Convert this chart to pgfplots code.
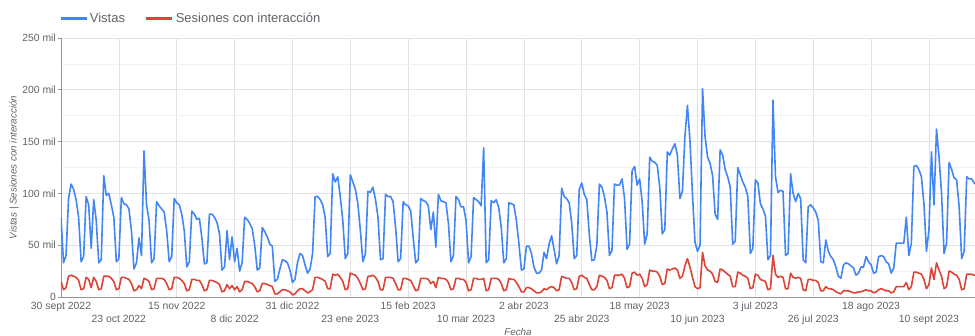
\documentclass[border=0pt]{standalone}
\usepackage{pgfplots}
\pgfplotsset{compat=1.18}
\usepackage{pgfplotstable}
\usepackage{fontspec}
\setmainfont{Liberation Sans}
\definecolor{gblue}{RGB}{66,133,244}
\definecolor{gred}{RGB}{219,68,55}
\definecolor{txt}{RGB}{95,99,104}
\definecolor{gridc}{RGB}{226,226,226}
\definecolor{gridm}{RGB}{242,242,242}
\definecolor{axc}{RGB}{150,150,150}

\pgfplotstableread[row sep=\\]{
d v s\\
0 77 15\\ 1 33 7\\ 2 40 9\\ 3 95 20\\ 4 109 21\\ 5 104 20\\ 6 94 19\\
7 77 16\\ 8 34 7\\ 9 39 8\\ 10 97 19\\ 11 89 17\\ 12 47 9\\ 13 94 19\\
14 74 15\\ 15 33 7\\ 16 36 8\\ 17 117 20\\ 18 98 20\\ 19 100 20\\ 20 89 18\\
21 77 15\\ 22 34 7\\ 23 37 8\\ 24 96 19\\ 25 90 19\\ 26 89 18\\ 27 85 17\\
28 64 13\\ 29 27 6\\ 30 33 7\\ 31 57 11\\ 32 40 8\\ 33 141 18\\ 34 89 17\\
35 74 15\\ 36 33 7\\ 37 37 8\\ 38 92 18\\ 39 88 18\\ 40 85 18\\ 41 82 17\\
42 64 13\\ 43 34 7\\ 44 39 8\\ 45 95 19\\ 46 91 19\\ 47 89 18\\ 48 80 16\\
49 64 13\\ 50 29 6\\ 51 34 7\\ 52 83 17\\ 53 80 17\\ 54 75 16\\ 55 76 16\\
56 57 12\\ 57 32 6\\ 58 33 7\\ 59 80 16\\ 60 80 16\\ 61 77 15\\ 62 72 14\\
63 61 12\\ 64 26 5\\ 65 29 6\\ 66 64 12\\ 67 36 8\\ 68 58 11\\ 69 34 7\\
70 47 10\\ 71 25 5\\ 72 33 7\\ 73 77 15\\ 74 75 15\\ 75 71 14\\ 76 66 13\\
77 50 10\\ 78 26 5\\ 79 28 6\\ 80 67 13\\ 81 63 13\\ 82 58 12\\ 83 51 11\\
84 49 10\\ 85 15 3\\ 86 17 3\\ 87 27 5\\ 88 36 7\\ 89 35 7\\ 90 33 6\\
91 26 5\\ 92 14 2\\ 93 17 3\\ 94 33 6\\ 95 42 8\\ 96 40 8\\ 97 31 6\\
98 23 4\\ 99 27 5\\ 100 42 7\\ 101 97 19\\ 102 97 19\\ 103 94 18\\ 104 89 17\\
105 77 15\\ 106 39 8\\ 107 42 8\\ 108 119 22\\ 109 111 21\\ 110 116 22\\ 111 97 19\\
112 74 15\\ 113 37 7\\ 114 42 8\\ 115 118 23\\ 116 111 22\\ 117 104 21\\ 118 90 18\\
119 64 13\\ 120 34 7\\ 121 42 8\\ 122 102 20\\ 123 101 20\\ 124 106 21\\ 125 94 19\\
126 77 15\\ 127 36 7\\ 128 37 7\\ 129 99 19\\ 130 97 19\\ 131 97 19\\ 132 92 18\\
133 67 13\\ 134 34 7\\ 135 37 7\\ 136 92 18\\ 137 89 18\\ 138 88 17\\ 139 83 16\\
140 57 11\\ 141 33 6\\ 142 36 7\\ 143 95 18\\ 144 93 18\\ 145 92 18\\ 146 88 17\\
147 65 13\\ 148 82 15\\ 149 48 9\\ 150 99 19\\ 151 93 18\\ 152 92 18\\ 153 91 17\\
154 71 14\\ 155 34 7\\ 156 40 8\\ 157 97 18\\ 158 94 18\\ 159 87 17\\ 160 87 17\\
161 74 14\\ 162 33 6\\ 163 39 7\\ 164 96 18\\ 165 94 18\\ 166 92 17\\ 167 88 17\\
168 144 18\\ 169 33 6\\ 170 36 7\\ 171 93 18\\ 172 91 18\\ 173 94 18\\ 174 86 17\\
175 67 13\\ 176 33 6\\ 177 37 7\\ 178 91 18\\ 179 90 17\\ 180 89 17\\ 181 74 14\\
182 52 10\\ 183 26 5\\ 184 27 5\\ 185 49 9\\ 186 49 9\\ 187 42 8\\ 188 29 6\\
189 23 4\\ 190 23 4\\ 191 26 5\\ 192 43 8\\ 193 37 7\\ 194 51 9\\ 195 59 10\\
196 46 9\\ 197 32 6\\ 198 40 7\\ 199 105 20\\ 200 97 19\\ 201 95 18\\ 202 91 18\\
203 71 14\\ 204 37 7\\ 205 40 8\\ 206 104 20\\ 207 110 21\\ 208 99 19\\ 209 94 18\\
210 60 12\\ 211 35 7\\ 212 36 7\\ 213 50 10\\ 214 109 21\\ 215 106 20\\ 216 97 19\\
217 82 16\\ 218 40 8\\ 219 45 9\\ 220 109 21\\ 221 108 21\\ 222 108 21\\ 223 114 22\\
224 95 18\\ 225 46 9\\ 226 51 10\\ 227 122 23\\ 228 126 24\\ 229 108 21\\ 230 114 22\\
231 92 18\\ 232 51 10\\ 233 61 12\\ 234 135 26\\ 235 131 25\\ 236 130 25\\ 237 127 24\\
238 106 20\\ 239 61 12\\ 240 65 13\\ 241 140 27\\ 242 137 26\\ 243 143 27\\ 244 148 28\\
245 137 26\\ 246 95 18\\ 247 102 20\\ 248 155 30\\ 249 185 37\\ 250 151 29\\ 251 99 19\\
252 53 10\\ 253 44 8\\ 254 50 9\\ 255 201 43\\ 256 155 30\\ 257 135 26\\ 258 129 25\\
259 117 22\\ 260 80 15\\ 261 75 14\\ 262 142 27\\ 263 137 26\\ 264 123 24\\ 265 116 22\\
266 106 20\\ 267 51 10\\ 268 54 10\\ 269 125 24\\ 270 118 23\\ 271 111 21\\ 272 106 20\\
273 97 18\\ 274 42 8\\ 275 47 9\\ 276 113 22\\ 277 110 21\\ 278 90 17\\ 279 85 16\\
280 78 15\\ 281 36 7\\ 282 40 8\\ 283 190 40\\ 284 116 22\\ 285 101 19\\ 286 103 20\\
287 102 19\\ 288 40 8\\ 289 42 8\\ 290 119 23\\ 291 100 19\\ 292 92 18\\ 293 100 19\\
294 95 18\\ 295 36 7\\ 296 33 6\\ 297 87 17\\ 298 89 17\\ 299 86 16\\ 300 82 16\\
301 74 14\\ 302 34 6\\ 303 33 6\\ 304 55 10\\ 305 44 8\\ 306 39 8\\ 307 36 7\\
308 29 5\\ 309 20 4\\ 310 18 3\\ 311 31 6\\ 312 33 6\\ 313 32 6\\ 314 30 5\\
315 28 4\\ 316 21 4\\ 317 23 5\\ 318 29 5\\ 319 29 6\\ 320 39 7\\ 321 34 6\\
322 31 6\\ 323 23 4\\ 324 24 5\\ 325 39 7\\ 326 40 8\\ 327 39 7\\ 328 34 6\\
329 32 6\\ 330 23 4\\ 331 28 5\\ 332 52 10\\ 333 52 10\\ 334 52 10\\ 335 52 10\\
336 77 14\\ 337 40 7\\ 338 52 10\\ 339 126 24\\ 340 127 24\\ 341 123 23\\ 342 116 22\\
343 90 17\\ 344 44 8\\ 345 65 12\\ 346 140 28\\ 347 89 17\\ 348 162 33\\ 349 135 26\\
350 100 20\\ 351 42 8\\ 352 52 10\\ 353 130 25\\ 354 123 24\\ 355 115 22\\ 356 113 21\\
357 87 17\\ 358 37 7\\ 359 44 8\\ 360 116 22\\ 361 114 22\\ 362 114 22\\ 363 110 21\\
364 108 21\\
}\datatab

\begin{document}
\begin{tikzpicture}
\useasboundingbox (-61pt,-39pt) rectangle (914pt,297pt);
\begin{axis}[
  at={(0pt,0pt)}, anchor=south west,
  scale only axis, width=914pt, height=259pt,
  xmin=0, xmax=363.3, ymin=0, ymax=250,
  axis x line*=bottom, axis y line*=left,
  axis line style={draw=axc, line width=0.8pt, -},
  xtick={0,46,92,138,184,230,276,322},
  xticklabels={30 sept 2022, 15 nov 2022, 31 dic 2022, 15 feb 2023, 2 abr 2023, 18 may 2023, 3 jul 2023, 18 ago 2023},
  extra x ticks={23,69,115,161,207,253,299,345},
  extra x tick labels={23 oct 2022, 8 dic 2022, 23 ene 2023, 10 mar 2023, 25 abr 2023, 10 jun 2023, 26 jul 2023, 10 sept 2023},
  extra x tick style={grid=major, tick label style={yshift=-13pt}},
  xmajorgrids, ymajorgrids, yminorgrids, minor y tick num=1,
  major grid style={draw=gridc, line width=0.7pt},
  minor grid style={draw=gridm, line width=0.7pt},
  ytick={0,50,100,150,200,250},
  yticklabels={0, 50 mil, 100 mil, 150 mil, 200 mil, 250 mil},
  x tick style={draw=none},
  y tick style={draw=axc, line width=0.7pt},
  tick align=outside, major tick length=3pt, minor tick length=0pt,
  tick label style={font=\fontsize{10.4}{12}\selectfont, text=txt},
  xticklabel style={inner sep=2pt},
  yticklabel style={inner sep=2pt},
  xlabel={Fecha}, ylabel={Vistas | Sesiones con interacción},
  label style={font=\fontsize{9.8}{12}\selectfont\itshape, text=txt},
  xlabel style={at={([yshift=-35pt]axis description cs:0.5,0)}, anchor=center},
  ylabel style={at={([xshift=-47pt]axis description cs:0,0.5)}, anchor=center},
  legend image code/.code={\draw[#1, line width=2.7pt] (0pt,0pt) -- (26pt,0pt);},
  legend style={at={(axis description cs:0,1)}, anchor=west, xshift=-2pt, yshift=19.5pt,
    draw=none, fill=none, inner sep=0pt, legend columns=-1,
    font=\fontsize{13}{15}\selectfont, text=txt,
    /tikz/every even column/.append style={column sep=18pt},
    nodes={inner sep=2pt}},
]
\addplot[gblue, line width=1.6pt, line join=round] table[x=d, y=v] {\datatab};
\addlegendentry{Vistas}
\addplot[gred, line width=1.6pt, line join=round] table[x=d, y=s] {\datatab};
\addlegendentry{Sesiones con interacción}
\end{axis}
\end{tikzpicture}
\end{document}
